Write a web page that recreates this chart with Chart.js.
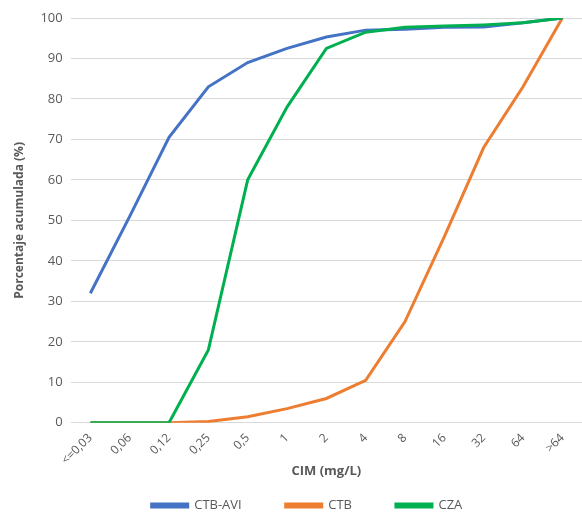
<!DOCTYPE html>
<html>
<head>
<meta charset="utf-8">
<script src="https://cdn.jsdelivr.net/npm/chart.js@4/dist/chart.umd.min.js"></script>
<style>
  html, body { margin: 0; padding: 0; background: #fff; }
  #wrap { width: 582px; height: 513px; }
</style>
</head>
<body>
<div id="wrap"><canvas id="cim"></canvas></div>
<script>
// --- data ---
const categories = ['<=0,03', '0,06', '0,12', '0,25', '0,5', '1', '2', '4', '8', '16', '32', '64', '>64'];
const ctbAvi = [32, 51, 70.5, 83, 89, 92.5, 95.3, 97, 97.2, 97.7, 97.8, 98.8, 100];
const ctb    = [0, 0, 0, 0.3, 1.5, 3.5, 6, 10.5, 25, 46, 68, 83, 100];
const cza    = [0, 0, 0, 18, 60, 78, 92.5, 96.5, 97.7, 98, 98.3, 98.8, 100];
const yTicks = [0, 10, 20, 30, 40, 50, 60, 70, 80, 90, 100];

const grey = '#595959';
const font = "'Open Sans', 'Liberation Sans', sans-serif";
const legendGap = 44;

// order: lower value is painted on top (green over blue over orange)
function line(label, data, color, order) {
    return {
        label: label,
        data: data,
        borderColor: color,
        backgroundColor: color,
        borderWidth: 3,
        pointRadius: 0,
        tension: 0,
        fill: false,
        order: order
    };
}

// wide gaps between legend items without the legend eating vertical room
// (legend draws at top + padding, so pull its top up; keep bottom so the clip still holds)
// and the row sits a bit right of centre like the original
const legendShift = {
    id: 'legendShift',
    afterLayout(chart) {
        const lg = chart.legend;
        lg.left += 12;
        lg.right += 12;
        lg.top -= legendGap - 6;
    }
};

new Chart(document.getElementById('cim'), {
    type: 'line',
    data: {
        labels: categories,
        datasets: [
            line('CTB-AVI', ctbAvi, '#4472C4', 1),
            line('CTB', ctb, '#ED7D31', 2),
            line('CZA', cza, '#00B050', 0)
        ]
    },
    plugins: [legendShift],
    options: {
        responsive: true,
        maintainAspectRatio: false,
        animation: false,
        layout: { padding: { top: 18, right: 0, left: 8, bottom: -9 } },
        plugins: {
            tooltip: { enabled: false },
            legend: {
                position: 'bottom',
                maxHeight: 29,
                labels: {
                    boxWidth: 36,
                    boxHeight: 3,
                    padding: legendGap,
                    color: grey,
                    font: { family: font, size: 13 },
                    sort: (a, b) => a.datasetIndex - b.datasetIndex
                }
            }
        },
        scales: {
            x: {
                offset: true,
                grid: { display: false },
                border: { display: false },
                ticks: {
                    color: grey,
                    maxRotation: 45,
                    minRotation: 45,
                    autoSkip: false,
                    padding: 0,
                    font: { family: font, size: 12 }
                },
                title: {
                    display: true,
                    text: 'CIM (mg/L)',
                    color: grey,
                    padding: { top: -4, bottom: 14 },
                    font: { family: font, size: 13, weight: 'bold' }
                }
            },
            y: {
                min: 0,
                max: 100,
                afterBuildTicks: axis => { axis.ticks = yTicks.map(v => ({ value: v })); },
                grid: { color: '#d9d9d9', lineWidth: 1, drawTicks: false },
                border: { display: false },
                ticks: {
                    color: grey,
                    padding: 8,
                    font: { family: font, size: 13 }
                },
                title: {
                    display: true,
                    text: 'Porcentaje acumulada (%)',
                    color: grey,
                    padding: { bottom: 6 },
                    font: { family: font, size: 12, weight: 'bold' }
                }
            }
        }
    }
});
</script>
</body>
</html>
